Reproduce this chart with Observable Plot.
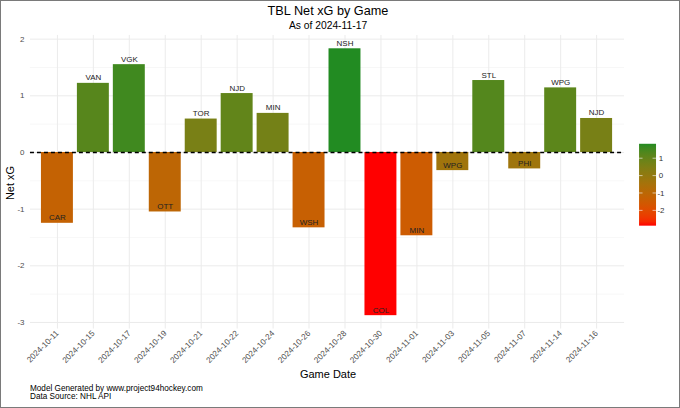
<!DOCTYPE html>
<html>
<head>
<meta charset="utf-8">
<script src="https://cdn.jsdelivr.net/npm/d3@7"></script>
<script src="https://cdn.jsdelivr.net/npm/@observablehq/plot@0.6"></script>
<style>
  html, body { margin: 0; padding: 0; background: #fff; }
  #wrap { position: relative; width: 680px; height: 408px; box-sizing: border-box; border: 1px solid #7a7a7a; overflow: hidden; font-family: "Liberation Sans", Arial, Helvetica, sans-serif; }
  #chart { position: absolute; left: -1px; top: -1px; }
  .t { position: absolute; white-space: nowrap; color: #000; }
  #title { top: 3px; left: 0; width: 654px; text-align: center; font-size: 12.7px; }
  #subtitle { top: 19px; left: 0; width: 654px; text-align: center; font-size: 10.3px; }
  #xlab { top: 367px; left: 0; width: 654px; text-align: center; font-size: 11px; }
  #ylab { left: 9px; top: 182px; font-size: 11px; transform: translate(-50%, -50%) rotate(-90deg); }
  .cap { left: 29px; font-size: 8.2px; line-height: 7.6px; height: 7.6px; }
  #cap1 { top: 384px; }
  #cap2 { top: 391.8px; }
</style>
</head>
<body>
<div id="wrap">
  <div id="chart"></div>
  <div class="t" id="title">TBL Net xG by Game</div>
  <div class="t" id="subtitle">As of 2024-11-17</div>
  <div class="t" id="xlab">Game Date</div>
  <div class="t" id="ylab">Net xG</div>
  <div class="t cap" id="cap1">Model Generated by www.project94hockey.com</div>
  <div class="t cap" id="cap2">Data Source: NHL API</div>
</div>
<script>
const dates = ["2024-10-11","2024-10-15","2024-10-17","2024-10-19","2024-10-21","2024-10-22","2024-10-24","2024-10-26",
               "2024-10-28","2024-10-30","2024-11-01","2024-11-03","2024-11-05","2024-11-07","2024-11-14","2024-11-16"];
const opponents = ["CAR","VAN","VGK","OTT","TOR","NJD","MIN","WSH","NSH","COL","MIN","WPG","STL","PHI","WPG","NJD"];
const netXG = [-1.25, 1.22, 1.55, -1.05, 0.59, 1.04, 0.69, -1.33, 1.83, -2.88, -1.47, -0.32, 1.27, -0.29, 1.14, 0.60];
const yTicks = [-3, -2, -1, 0, 1, 2];
const yMinor = [-2.5, -1.5, -0.5, 0.5, 1.5];
const legendTicks = [1, 0, -1, -2];

const data = dates.map((d, i) => ({date: d, opp: opponents[i], xg: netXG[i]}));
const lo = d3.min(netXG), hi = d3.max(netXG), pad = (hi - lo) * 0.05;
const lowColor = "red", highColor = "forestgreen";

const plot = Plot.plot({
  width: 680, height: 408,
  marginTop: 35, marginBottom: 79, marginLeft: 30, marginRight: 55,
  style: {fontFamily: '"Liberation Sans", Arial, Helvetica, sans-serif', fontSize: "8px", background: "transparent", overflow: "visible"},
  x: {domain: dates, paddingInner: 0.1, paddingOuter: 0.15, label: null},
  y: {domain: [lo - pad, hi + pad], label: null},
  color: {type: "linear", domain: [lo, hi], range: [lowColor, highColor], interpolate: "lab"},
  marks: [
    Plot.gridY(yMinor, {stroke: "#f2f2f2", strokeOpacity: 1, strokeWidth: 0.6}),
    Plot.gridY(yTicks, {stroke: "#ebebeb", strokeOpacity: 1, strokeWidth: 1}),
    Plot.gridX({stroke: "#ebebeb", strokeOpacity: 1, strokeWidth: 1}),
    Plot.barY(data, {x: "date", y: "xg", fill: "xg"}),
    Plot.ruleY([0], {stroke: "#000", strokeWidth: 1.3, strokeDasharray: "4,3"}),
    Plot.text(data, {x: "date", y: "xg", text: "opp", lineAnchor: "bottom", dy: -3, fill: "#222", fontSize: 8}),
    Plot.axisX({tickRotate: -45, tickSize: 0, tickPadding: 3, fill: "#4d4d4d", fontSize: 8.2, label: null}),
    Plot.axisY(yTicks, {tickSize: 0, tickPadding: 6, fill: "#4d4d4d", fontSize: 8, tickFormat: d => String(d), label: null})
  ]
});
document.getElementById("chart").appendChild(plot);

// colour bar legend
const svg = d3.select(plot);
const lx = 640, lw = 17, ltop = 144, lbot = 226;
const ly = d3.scaleLinear().domain([lo, hi]).range([lbot, ltop]);
const col = d3.scaleLinear().domain([lo, hi]).range([lowColor, highColor]).interpolate(d3.interpolateLab);
const grad = svg.append("defs").append("linearGradient")
  .attr("id", "lg").attr("x1", 0).attr("y1", 1).attr("x2", 0).attr("y2", 0);
d3.range(0, 1.0001, 0.05).forEach(t => {
  grad.append("stop").attr("offset", t).attr("stop-color", col(lo + t * (hi - lo)));
});
const lg = svg.append("g");
lg.append("rect").attr("x", lx).attr("y", ltop).attr("width", lw).attr("height", lbot - ltop).attr("fill", "url(#lg)");
legendTicks.forEach(v => {
  const y = ly(v);
  lg.append("line").attr("x1", lx).attr("x2", lx + 3.5).attr("y1", y).attr("y2", y).attr("stroke", "#fff").attr("stroke-width", 0.6);
  lg.append("line").attr("x1", lx + lw - 3.5).attr("x2", lx + lw).attr("y1", y).attr("y2", y).attr("stroke", "#fff").attr("stroke-width", 0.6);
  lg.append("text").attr("x", lx + lw + 5).attr("y", y).attr("dy", "0.32em")
    .attr("font-size", 8).attr("fill", "#333").text(String(v));
});
</script>
</body>
</html>
